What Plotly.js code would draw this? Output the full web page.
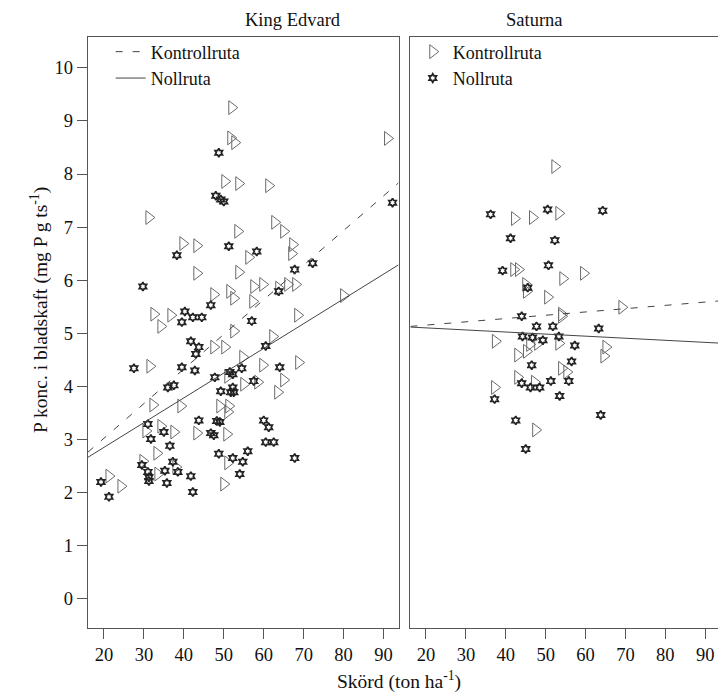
<!DOCTYPE html>
<html>
<head>
<meta charset="utf-8">
<script src="https://cdn.plot.ly/plotly-3.0.1.min.js"></script>
<style>html,body{margin:0;padding:0;background:#fff;}#chart{width:718px;height:700px;}</style>
</head>
<body>
<div id="chart"></div>
<script>
// King Edvard – Kontrollruta
const keKontrollX = [52.0,51.75,52.75,91.0,50.25,53.75,61.25,31.25,53.5,62.75,65.0,39.75,43.25,67.25,67.0,56.25,43.25,53.75,57.5,59.75,63.75,66.0,68.0,47.5,51.5,52.5,57.25,80.0,32.5,36.75,34.25,68.5,52.5,62.25,47.5,50.25,54.75,59.75,68.75,31.5,51.0,55.0,58.5,65.0,63.5,32.25,39.25,49.0,51.25,51.0,34.25,30.5,37.5,43.25,50.75,33.25,29.75,51.0,38.0,33.5,21.25,24.25,50.0];
const keKontrollY = [9.25,8.68,8.59,8.67,7.86,7.82,7.78,7.18,6.92,7.09,6.92,6.69,6.65,6.67,6.50,6.43,6.13,6.15,5.88,5.92,5.85,5.92,5.92,5.73,5.79,5.66,5.60,5.71,5.36,5.34,5.13,5.34,5.04,4.94,4.74,4.74,4.55,4.40,4.45,4.38,4.19,4.04,4.08,4.12,3.89,3.65,3.63,3.63,3.63,3.52,3.25,3.16,3.14,3.12,3.10,2.74,2.59,2.56,2.48,2.35,2.31,2.12,2.16];
// King Edvard – Nollruta
const keNollX = [48.75,48.0,49.25,50.0,92.25,51.25,58.25,38.25,72.25,67.75,29.75,63.75,46.75,40.25,42.25,44.5,39.5,57.0,41.75,43.75,43.0,60.5,27.5,39.5,42.75,54.5,64.0,51.5,52.25,47.75,36.0,37.5,57.5,52.25,49.25,51.75,52.5,43.75,48.25,49.0,60.0,61.25,31.0,35.0,46.75,47.5,31.75,36.5,60.5,62.5,56.0,48.75,52.25,54.75,67.75,29.5,37.25,35.25,38.5,54.0,31.0,31.25,31.25,41.75,35.75,42.25,19.25,21.25];
const keNollY = [8.40,7.59,7.52,7.48,7.46,6.64,6.54,6.47,6.32,6.20,5.88,5.79,5.53,5.41,5.30,5.30,5.21,5.23,4.85,4.74,4.61,4.76,4.34,4.36,4.30,4.34,4.36,4.27,4.23,4.17,3.98,4.02,4.10,3.98,3.91,3.89,3.89,3.36,3.35,3.33,3.36,3.23,3.29,3.14,3.12,3.08,3.01,2.88,2.95,2.95,2.78,2.73,2.65,2.58,2.65,2.52,2.58,2.41,2.39,2.35,2.39,2.29,2.22,2.31,2.18,2.01,2.20,1.92];
// Saturna – Kontrollruta
const saKontrollX = [52.3,42.2,46.7,53.3,42.0,43.2,54.3,59.5,45.0,45.2,50.5,54.0,54.0,69.1,37.4,43.0,45.2,46.0,48.0,53.3,65.1,64.6,54.0,55.3,43.0,47.2,37.2,47.5];
const saKontrollY = [8.14,7.16,7.18,7.26,6.20,6.20,6.03,6.13,5.92,5.79,5.68,5.36,5.32,5.49,4.85,4.59,4.66,4.79,4.81,4.81,4.74,4.57,4.34,4.27,4.17,4.08,3.98,3.18];
// Saturna – Nollruta
const saNollX = [36.2,50.5,64.3,41.2,52.3,39.2,50.7,45.5,44.0,47.7,51.8,63.3,44.2,46.7,49.3,53.3,57.3,46.5,56.5,44.0,46.2,48.5,51.3,55.8,37.2,53.5,42.5,63.8,45.0];
const saNollY = [7.24,7.33,7.31,6.79,6.75,6.18,6.28,5.86,5.32,5.13,5.13,5.09,4.94,4.92,4.87,4.94,4.77,4.40,4.47,4.06,3.98,3.98,4.10,4.10,3.76,3.82,3.36,3.46,2.82];
// Fitted lines: [intercept, slope]
const keKontrollFit = [1.72, 0.0652];
const keNollFit = [1.92, 0.0466];
const saKontrollFit = [5.03, 0.0062];
const saNollFit = [5.18, -0.0039];
const xRangeLeft = [16, 93.75];
const xRangeRight = [16.1, 93.2];
const yTicks = [0,1,2,3,4,5,6,7,8,9,10];
const xTicks = [20,30,40,50,60,70,80,90];

const FONT = 'Liberation Serif, Times New Roman, serif';
const lineColor = '#444';
const triStyle = {symbol:'triangle-right-open', size:12, color:'#6a6a6a', line:{width:1, color:'#6a6a6a'}};
const starStyle = {symbol:'hexagram-open', size:6.5, color:'#222', line:{width:1.7, color:'#222'}};

function fitLine(fit, xr){ return {x: xr, y: xr.map(v => fit[0] + fit[1]*v)}; }

const traces = [
  {type:'scatter', mode:'markers', x:keKontrollX, y:keKontrollY, xaxis:'x', yaxis:'y', marker:triStyle, showlegend:false, hoverinfo:'skip'},
  {type:'scatter', mode:'markers', x:keNollX, y:keNollY, xaxis:'x', yaxis:'y', marker:starStyle, showlegend:false, hoverinfo:'skip'},
  Object.assign({type:'scatter', mode:'lines', name:'Kontrollruta', xaxis:'x', yaxis:'y', line:{color:lineColor, width:1, dash:'7px,10px'}, legend:'legend'}, fitLine(keKontrollFit, xRangeLeft)),
  Object.assign({type:'scatter', mode:'lines', name:'Nollruta', xaxis:'x', yaxis:'y', line:{color:lineColor, width:1}, legend:'legend'}, fitLine(keNollFit, xRangeLeft)),
  {type:'scatter', mode:'markers', name:'Kontrollruta', x:saKontrollX, y:saKontrollY, xaxis:'x2', yaxis:'y2', marker:triStyle, legend:'legend2'},
  {type:'scatter', mode:'markers', name:'Nollruta', x:saNollX, y:saNollY, xaxis:'x2', yaxis:'y2', marker:starStyle, legend:'legend2'},
  Object.assign({type:'scatter', mode:'lines', xaxis:'x2', yaxis:'y2', line:{color:lineColor, width:1, dash:'7px,10px'}, showlegend:false}, fitLine(saKontrollFit, xRangeRight)),
  Object.assign({type:'scatter', mode:'lines', xaxis:'x2', yaxis:'y2', line:{color:lineColor, width:1}, showlegend:false}, fitLine(saNollFit, xRangeRight))
];

const axCommon = {showgrid:false, zeroline:false, showline:true, linecolor:'#555', linewidth:1.2,
  ticks:'outside', tickcolor:'#555', ticklen:10, tickfont:{family:FONT, size:18.5, color:'#111'}};

const layout = {
  width:718, height:700,
  margin:{l:88, r:0, t:37, b:72},
  paper_bgcolor:'#fff', plot_bgcolor:'#fff',
  font:{family:FONT, color:'#111'},
  xaxis: Object.assign({}, axCommon, {domain:[0,0.4929], range:xRangeLeft, tickvals:xTicks, mirror:true, anchor:'y'}),
  xaxis2: Object.assign({}, axCommon, {domain:[0.5118,1], range:xRangeRight, tickvals:xTicks, mirror:true, anchor:'y2'}),
  yaxis: Object.assign({}, axCommon, {range:[-0.55,10.58], tickvals:yTicks, mirror:true, anchor:'x'}),
  yaxis2: Object.assign({}, axCommon, {range:[-0.55,10.58], showticklabels:false, ticks:'', mirror:false, anchor:'x2'}),
  legend:{x:0.036, y:1.006, xanchor:'left', yanchor:'top', bgcolor:'rgba(0,0,0,0)', font:{family:FONT, size:18, color:'#111'}, tracegroupgap:0},
  legend2:{x:0.5155, y:1.006, xanchor:'left', yanchor:'top', bgcolor:'rgba(0,0,0,0)', font:{family:FONT, size:18, color:'#111'}, tracegroupgap:0},
  annotations:[
    {text:'King Edvard', xref:'paper', yref:'paper', x:0.2465, y:1, yanchor:'bottom', yshift:5, showarrow:false, font:{family:FONT, size:18.5, color:'#111'}},
    {text:'Saturna', xref:'paper', yref:'paper', x:0.757, y:1, yanchor:'bottom', yshift:5, showarrow:false, font:{family:FONT, size:18.5, color:'#111'}},
    {text:'Skörd (ton ha<sup>-1</sup>)', xref:'paper', yref:'paper', x:0.493, y:-0.088, yanchor:'middle', showarrow:false, font:{family:FONT, size:19.5, color:'#111'}},
    {text:'P konc. i bladskaft (mg P g ts<sup>-1</sup>)', xref:'paper', yref:'paper', x:-0.078, y:0.538, textangle:-90, xanchor:'center', yanchor:'middle', showarrow:false, font:{family:FONT, size:19.5, color:'#111'}}
  ]
};

Plotly.newPlot('chart', traces, layout, {staticPlot:true, displayModeBar:false});
</script>
</body>
</html>
